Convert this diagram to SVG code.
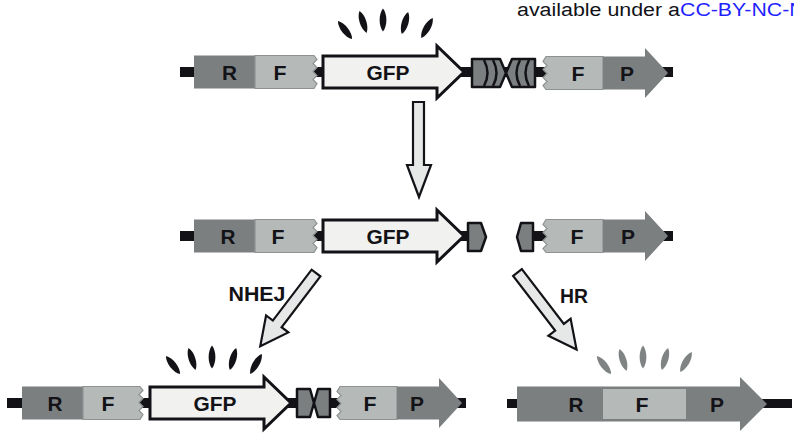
<svg xmlns="http://www.w3.org/2000/svg" xmlns:xlink="http://www.w3.org/1999/xlink" width="794" height="434" viewBox="0 0 794 434">
<style>
.bb{fill:#121217}
.r{fill:#7b7f80}
.f{fill:#b5b9b8;stroke:#8e9292;stroke-width:1.2}
.gfp{fill:#f1f2f0;stroke:#121217;stroke-width:3}
.cut{fill:#7b7f80;stroke:#121217;stroke-width:2.5;stroke-linejoin:round}
.chev{fill:none;stroke:#121217;stroke-width:2.5}
.lbl{font-family:"Liberation Sans",Arial,sans-serif;font-weight:bold;font-size:20px;fill:#121217;text-anchor:middle}
.drop{fill:#121217}
.gdrop{fill:#7f8383}
.conn{fill:#e6e7e7;stroke:#121217;stroke-width:2.2;stroke-linejoin:miter}
.top{font-family:"Liberation Sans",Arial,sans-serif;font-size:18px}
</style>
<defs>
<path id="fL" d="M0,-16.5 H59 L62,-12.5 L58,-8.5 L62,-4.5 L58,-0.5 L62,3.5 L58,7.5 L62,11.5 L59,16.5 H0 Z"/>
<path id="fR" d="M3,-16.5 H60 V16.5 H3 L0,12.5 L4,8.5 L0,4.5 L4,0.5 L0,-3.5 L4,-7.5 L0,-11.5 Z"/>
<path id="pA" d="M0,-16.5 H42 V-25 L65,0 L42,25 V16.5 H0 Z"/>
<path id="gA" d="M0,-16 H114 V-26 L141,0 L114,26 V16 H0 Z"/>
<path id="dr" d="M0,-11.5 C4.5,-6 4.5,6 0,11.5 C-4.5,6 -4.5,-6 0,-11.5 Z"/>
</defs>

<text class="top" x="517" y="16" textLength="163" lengthAdjust="spacingAndGlyphs" fill="#121217">available under a</text>
<text class="top" x="680" y="16" textLength="140" lengthAdjust="spacingAndGlyphs" fill="#1f1fff">CC-BY-NC-ND</text>

<g id="drops-top" class="drop">
<use xlink:href="#dr" transform="translate(345,30) rotate(-38)"/>
<use xlink:href="#dr" transform="translate(363,22) rotate(-18)"/>
<use xlink:href="#dr" transform="translate(383,20) rotate(0)"/>
<use xlink:href="#dr" transform="translate(405,23) rotate(16)"/>
<use xlink:href="#dr" transform="translate(427,28) rotate(30)"/>
</g>

<g id="construct-top">
<rect class="bb" x="180" y="67" width="493" height="10"/>
<rect class="r" x="194" y="55.5" width="61" height="33"/>
<use class="f" xlink:href="#fL" transform="translate(255,72)"/>
<use class="gfp" xlink:href="#gA" transform="translate(323,72)"/>
<g transform="translate(0,73)">
<path class="cut" d="M472,-14 H500 L506,0 L500,14 H472 Z"/>
<path class="cut" d="M512,-14 H535 V14 H512 L506,0 Z"/>
<path class="chev" d="M484,-13 Q491,0 484,13 M493,-13 Q500,0 493,13 M520,-13 Q513,0 520,13 M529,-13 Q522,0 529,13"/>
</g>
<use class="f" xlink:href="#fR" transform="translate(543,73)"/>
<use class="r" xlink:href="#pA" transform="translate(603,73)"/>
<text class="lbl" x="229.5" y="80" textLength="15" lengthAdjust="spacingAndGlyphs">R</text>
<text class="lbl" x="280" y="80" textLength="13" lengthAdjust="spacingAndGlyphs">F</text>
<text class="lbl" x="388" y="80" textLength="43" lengthAdjust="spacingAndGlyphs">GFP</text>
<text class="lbl" x="578" y="81" textLength="13" lengthAdjust="spacingAndGlyphs">F</text>
<text class="lbl" x="627" y="81" textLength="14" lengthAdjust="spacingAndGlyphs">P</text>
</g>

<g id="construct-cut">
<rect class="bb" x="180" y="231" width="290" height="10"/>
<rect class="bb" x="530" y="231" width="143" height="10"/>
<rect class="r" x="194" y="219.5" width="61" height="33"/>
<use class="f" xlink:href="#fL" transform="translate(255,236)"/>
<use class="gfp" xlink:href="#gA" transform="translate(323,236)"/>
<path class="cut" d="M468,223 H481 L486,237 L481,251 H468 Z"/>
<path class="cut" d="M521,223 H533 V251 H521 L517,237 Z"/>
<use class="f" xlink:href="#fR" transform="translate(543,236)"/>
<use class="r" xlink:href="#pA" transform="translate(603,236)"/>
<text class="lbl" x="228" y="244" textLength="15" lengthAdjust="spacingAndGlyphs">R</text>
<text class="lbl" x="278" y="244" textLength="13" lengthAdjust="spacingAndGlyphs">F</text>
<text class="lbl" x="388" y="244" textLength="43" lengthAdjust="spacingAndGlyphs">GFP</text>
<text class="lbl" x="577" y="244" textLength="13" lengthAdjust="spacingAndGlyphs">F</text>
<text class="lbl" x="628" y="244" textLength="14" lengthAdjust="spacingAndGlyphs">P</text>
</g>

<g id="drops-nhej" class="drop">
<use xlink:href="#dr" transform="translate(173,365) rotate(-38)"/>
<use xlink:href="#dr" transform="translate(192,359) rotate(-18)"/>
<use xlink:href="#dr" transform="translate(212,357) rotate(0)"/>
<use xlink:href="#dr" transform="translate(233,359) rotate(16)"/>
<use xlink:href="#dr" transform="translate(256,364) rotate(30)"/>
</g>

<g id="construct-nhej">
<rect class="bb" x="7" y="398" width="459" height="10"/>
<rect class="r" x="22" y="386.5" width="61" height="33"/>
<path class="f" transform="translate(83,403)" d="M0,-16.5 H57 L60,-12.5 L56,-8.5 L60,-4.5 L56,-0.5 L60,3.5 L56,7.5 L60,11.5 L57,16.5 H0 Z"/>
<use class="gfp" xlink:href="#gA" transform="translate(150,403)"/>
<path class="cut" d="M297,389 H310 L314,403 L310,417 H297 Z"/>
<path class="cut" d="M318,389 H330 V417 H318 L314,403 Z"/>
<path class="f" transform="translate(337,403)" d="M3,-16.5 H60 V16.5 H3 L0,12.5 L4,8.5 L0,4.5 L4,0.5 L0,-3.5 L4,-7.5 L0,-11.5 Z"/>
<use class="r" xlink:href="#pA" transform="translate(397,403)"/>
<text class="lbl" x="55" y="411" textLength="15" lengthAdjust="spacingAndGlyphs">R</text>
<text class="lbl" x="108" y="411" textLength="13" lengthAdjust="spacingAndGlyphs">F</text>
<text class="lbl" x="215" y="411" textLength="43" lengthAdjust="spacingAndGlyphs">GFP</text>
<text class="lbl" x="370" y="411" textLength="13" lengthAdjust="spacingAndGlyphs">F</text>
<text class="lbl" x="417" y="411" textLength="14" lengthAdjust="spacingAndGlyphs">P</text>
</g>

<g id="drops-hr" class="gdrop">
<use xlink:href="#dr" transform="translate(604,365) rotate(-38)"/>
<use xlink:href="#dr" transform="translate(623,360) rotate(-18)"/>
<use xlink:href="#dr" transform="translate(643,357) rotate(0)"/>
<use xlink:href="#dr" transform="translate(665,359) rotate(16)"/>
<use xlink:href="#dr" transform="translate(686,362) rotate(30)"/>
</g>

<g id="construct-hr">
<rect class="bb" x="507" y="399" width="285" height="9"/>
<path class="r" d="M517,386.5 H740 V377 L767,404 L740,431 V421.5 H517 Z"/>
<rect fill="#b5b9b8" x="603" y="389" width="83" height="30"/>
<text class="lbl" x="576" y="412" textLength="15" lengthAdjust="spacingAndGlyphs">R</text>
<text class="lbl" x="642" y="412" textLength="13" lengthAdjust="spacingAndGlyphs">F</text>
<text class="lbl" x="717" y="412" textLength="14" lengthAdjust="spacingAndGlyphs">P</text>
</g>

<g id="connectors">
<path class="conn" d="M413,102 H424 V165 H431 L419,197 L407,165 H413 Z"/>
<path class="conn" transform="translate(316,273) rotate(127.3)" d="M0,-5.5 H64 V-14 L92,0 L64,14 V5.5 H0 Z"/>
<path class="conn" transform="translate(517.5,272.5) rotate(52.5)" d="M0,-5.5 H69 V-14 L97,0 L69,14 V5.5 H0 Z"/>
</g>
<text id="label-nhej" class="lbl" x="257" y="301" textLength="57" lengthAdjust="spacingAndGlyphs">NHEJ</text>
<text id="label-hr" class="lbl" x="574" y="303" textLength="28" lengthAdjust="spacingAndGlyphs">HR</text>
</svg>
